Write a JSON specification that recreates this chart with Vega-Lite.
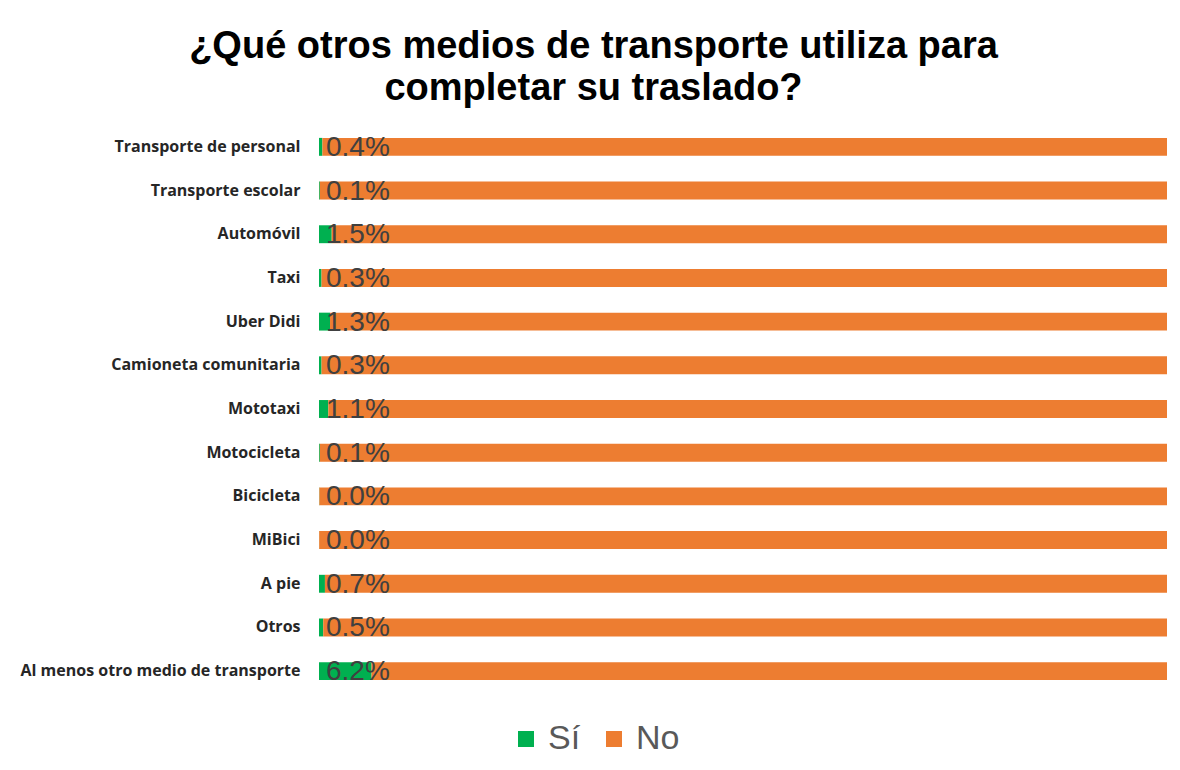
{
  "$schema": "https://vega.github.io/schema/vega-lite/v6.json",
  "autosize": "none",
  "width": 848,
  "height": 568,
  "padding": {"left": 319, "top": 125, "right": 13, "bottom": 77},
  "background": "white",
  "config": {"view": {"stroke": null}},
  "title": {
    "text": ["¿Qué otros medios de transporte utiliza para", "completar su traslado?"],
    "font": "Liberation Sans",
    "fontSize": 38,
    "fontWeight": "bold",
    "color": "#000000",
    "anchor": "middle",
    "frame": "bounds",
    "lineHeight": 42,
    "offset": 17
  },
  "data": {
    "values": [
      {"medio": "Transporte de personal", "respuesta": "Sí", "orden": 1, "valor": 0.004},
      {"medio": "Transporte de personal", "respuesta": "No", "orden": 2, "valor": 0.996},
      {"medio": "Transporte escolar", "respuesta": "Sí", "orden": 1, "valor": 0.001},
      {"medio": "Transporte escolar", "respuesta": "No", "orden": 2, "valor": 0.999},
      {"medio": "Automóvil", "respuesta": "Sí", "orden": 1, "valor": 0.015},
      {"medio": "Automóvil", "respuesta": "No", "orden": 2, "valor": 0.985},
      {"medio": "Taxi", "respuesta": "Sí", "orden": 1, "valor": 0.003},
      {"medio": "Taxi", "respuesta": "No", "orden": 2, "valor": 0.997},
      {"medio": "Uber Didi", "respuesta": "Sí", "orden": 1, "valor": 0.013},
      {"medio": "Uber Didi", "respuesta": "No", "orden": 2, "valor": 0.987},
      {"medio": "Camioneta comunitaria", "respuesta": "Sí", "orden": 1, "valor": 0.003},
      {"medio": "Camioneta comunitaria", "respuesta": "No", "orden": 2, "valor": 0.997},
      {"medio": "Mototaxi", "respuesta": "Sí", "orden": 1, "valor": 0.011},
      {"medio": "Mototaxi", "respuesta": "No", "orden": 2, "valor": 0.989},
      {"medio": "Motocicleta", "respuesta": "Sí", "orden": 1, "valor": 0.001},
      {"medio": "Motocicleta", "respuesta": "No", "orden": 2, "valor": 0.999},
      {"medio": "Bicicleta", "respuesta": "Sí", "orden": 1, "valor": 0.0004},
      {"medio": "Bicicleta", "respuesta": "No", "orden": 2, "valor": 0.9996},
      {"medio": "MiBici", "respuesta": "Sí", "orden": 1, "valor": 0.0002},
      {"medio": "MiBici", "respuesta": "No", "orden": 2, "valor": 0.9998},
      {"medio": "A pie", "respuesta": "Sí", "orden": 1, "valor": 0.007},
      {"medio": "A pie", "respuesta": "No", "orden": 2, "valor": 0.993},
      {"medio": "Otros", "respuesta": "Sí", "orden": 1, "valor": 0.005},
      {"medio": "Otros", "respuesta": "No", "orden": 2, "valor": 0.995},
      {"medio": "Al menos otro medio de transporte", "respuesta": "Sí", "orden": 1, "valor": 0.062},
      {"medio": "Al menos otro medio de transporte", "respuesta": "No", "orden": 2, "valor": 0.938}
    ]
  },
  "encoding": {
    "y": {
      "field": "medio",
      "type": "nominal",
      "sort": null,
      "title": null,
      "scale": {"paddingInner": 0.59, "paddingOuter": 0.295},
      "axis": {
        "domain": false,
        "ticks": false,
        "labelFont": "Open Sans",
        "labelFontSize": 16,
        "labelFontWeight": "bold",
        "labelColor": "#262626",
        "labelPadding": 19,
        "labelLimit": 400
      }
    }
  },
  "layer": [
    {
      "mark": {"type": "bar"},
      "encoding": {
        "x": {
          "field": "valor",
          "type": "quantitative",
          "stack": "zero",
          "scale": {"domain": [0, 1], "nice": false},
          "axis": null
        },
        "order": {"field": "orden", "type": "quantitative"},
        "color": {
          "field": "respuesta",
          "type": "nominal",
          "sort": ["Sí", "No"],
          "scale": {"domain": ["Sí", "No"], "range": ["#00B050", "#ED7D31"]},
          "legend": {
            "title": null,
            "orient": "none",
            "direction": "horizontal",
            "legendX": 190,
            "legendY": 597,
            "symbolType": "square",
            "symbolSize": 256,
            "symbolStrokeWidth": 0,
            "labelFont": "Liberation Sans",
            "labelFontSize": 34,
            "labelColor": "#595959",
            "labelOffset": 5,
            "columnPadding": 16
          }
        }
      }
    },
    {
      "transform": [{"filter": "datum.respuesta === 'Sí'"}],
      "mark": {
        "type": "text",
        "align": "left",
        "baseline": "middle",
        "dx": 7,
        "dy": 1,
        "font": "Liberation Sans",
        "fontSize": 28,
        "color": "#404040"
      },
      "encoding": {
        "x": {"datum": 0, "type": "quantitative"},
        "text": {"field": "valor", "type": "quantitative", "format": ".1%"}
      }
    }
  ]
}
